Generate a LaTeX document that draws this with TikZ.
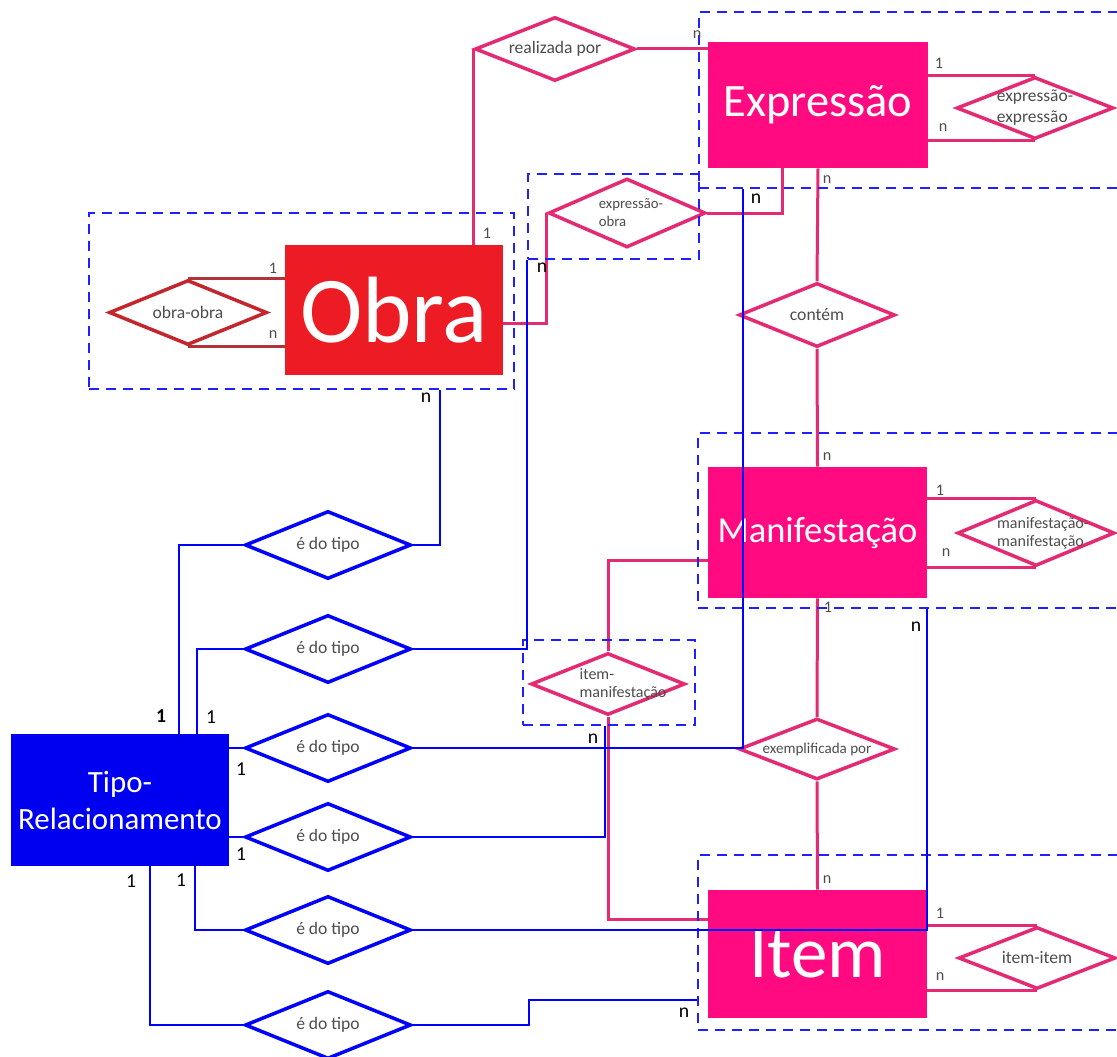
\documentclass[tikz,border=0pt]{standalone}
\usepackage{fontspec}
\setmainfont{Carlito}
\usetikzlibrary{shapes.geometric}

\newlength{\du}
\setlength{\du}{0.025cm}

\definecolor{obrared}{HTML}{ED1C24}
\definecolor{obradiam}{HTML}{C4262E}
\definecolor{obraline}{HTML}{B3323A}
\definecolor{frbrpink}{HTML}{FF0A80}
\definecolor{pinkline}{HTML}{E42A72}
\definecolor{tipoblue}{HTML}{0000F0}
\definecolor{linkblue}{HTML}{0000FF}
\definecolor{dashblue}{HTML}{1F1FFF}
\definecolor{labelgray}{HTML}{4D4D4D}

\tikzset{
  entity/.style={rectangle, inner sep=0pt, text=white, align=center},
  rel/.style={diamond, draw=#1, fill=white, line width=3.5\du, inner sep=0pt},
  reltext/.style={text=labelgray, inner sep=0pt, font=\fontsize{12.5}{14}\selectfont},
  pinkconn/.style={draw=pinkline, line width=3\du},
  obraconn/.style={draw=obraline, line width=3\du},
  blueconn/.style={draw=linkblue, line width=2.5\du},
  grupo/.style={rectangle, draw=dashblue, line width=2.5\du, dash pattern=on 10\du off 7\du, inner sep=0pt},
  cardgray/.style={text=labelgray, inner sep=0pt, font=\fontsize{11.5}{13}\selectfont},
  cardblack/.style={text=black, inner sep=0pt, font=\fontsize{14}{16}\selectfont},
}

\begin{document}
\begin{tikzpicture}
\pgftransformxscale{1.000000}
\pgftransformyscale{-1.000000}
\useasboundingbox (0\du,0\du) rectangle (1117\du,1057\du);
% entidades
\node[entity, fill=obrared, minimum width=218\du, minimum height=130\du, font=\fontsize{67}{70}\selectfont] (obra) at (394\du,310\du) {Obra};
\node[entity, fill=frbrpink, minimum width=220\du, minimum height=126\du, font=\fontsize{33}{36}\selectfont] (expr) at (818\du,105\du) {Expressão};
\node[entity, fill=frbrpink, minimum width=219\du, minimum height=131\du, font=\fontsize{26}{28}\selectfont] (manif) at (817.5\du,532.5\du) {Manifestação};
\node[entity, fill=frbrpink, minimum width=219\du, minimum height=128\du, font=\fontsize{52}{54}\selectfont] (item) at (817.5\du,954\du) {Item};
\node[entity, fill=tipoblue, minimum width=218\du, minimum height=132\du, font=\fontsize{22}{26.3}\selectfont] (tipo) at (120\du,800\du) {Tipo-\\Relacionamento};
% relacionamentos
\node[rel=pinkline, minimum width=160\du, minimum height=64\du, label={[reltext]center:realizada por}] (rp) at (555\du,49\du) {};
\node[rel=pinkline, minimum width=157\du, minimum height=69\du, label={[reltext, align=left, xshift=4\du, font=\fontsize{10.5}{12.8}\selectfont]center:{expressão-\\obra}}] (eo) at (627\du,213\du) {};
\node[rel=obradiam, minimum width=158\du, minimum height=65\du, label={[reltext]center:obra-obra}] (oo) at (188\du,312.5\du) {};
\node[rel=pinkline, minimum width=157\du, minimum height=62\du, label={[reltext, align=left, font=\fontsize{12.4}{15}\selectfont]center:{expressão-\\expressão}}] (ee) at (1035\du,108\du) {};
\node[rel=pinkline, minimum width=156\du, minimum height=64\du, label={[reltext]center:contém}] (cont) at (817\du,315\du) {};
\node[rel=pinkline, minimum width=157\du, minimum height=66\du, label={[reltext, align=left, xshift=7\du, font=\fontsize{11.4}{12.8}\selectfont]center:{manifestação-\\manifestação}}] (mm) at (1036\du,533\du) {};
\node[rel=pinkline, minimum width=154\du, minimum height=62\du, label={[reltext, align=left, xshift=15\du, font=\fontsize{11.4}{12.8}\selectfont]center:{item-\\manifestação}}] (im) at (608\du,684\du) {};
\node[rel=pinkline, minimum width=156\du, minimum height=61\du, label={[reltext, font=\fontsize{10.7}{12}\selectfont]center:exemplificada por}] (ex) at (817\du,749\du) {};
\node[rel=pinkline, minimum width=157\du, minimum height=62\du, label={[reltext]center:item-item}] (ii) at (1037\du,958\du) {};
\node[rel=linkblue, minimum width=166\du, minimum height=68\du, label={[reltext]center:é do tipo}] (edt1) at (328\du,545\du) {};
\node[rel=linkblue, minimum width=166\du, minimum height=68\du, label={[reltext]center:é do tipo}] (edt2) at (328\du,649\du) {};
\node[rel=linkblue, minimum width=166\du, minimum height=68\du, label={[reltext]center:é do tipo}] (edt3) at (328\du,748\du) {};
\node[rel=linkblue, minimum width=166\du, minimum height=68\du, label={[reltext]center:é do tipo}] (edt4) at (328\du,837\du) {};
\node[rel=linkblue, minimum width=166\du, minimum height=68\du, label={[reltext]center:é do tipo}] (edt5) at (328\du,930\du) {};
\node[rel=linkblue, minimum width=166\du, minimum height=68\du, label={[reltext]center:é do tipo}] (edt6) at (328\du,1025\du) {};
% ligacoes FRBR
\draw[pinkconn] (rp.west) -- (rp.west |- obra.north);
\draw[pinkconn] (rp.east) -- (rp.east -| expr.west);
\draw[pinkconn] (obra.east |- 0,323\du) -| (eo.west);
\draw[pinkconn] (eo.east) -| (expr.south -| 782\du,0);
\draw[pinkconn] (expr.south) -- (cont.north);
\draw[pinkconn] (cont.south) -- (manif.north);
\draw[pinkconn] (manif.west |- 0,560\du) -| (im.north);
\draw[pinkconn] (im.south) |- (item.west |- 0,919\du);
\draw[pinkconn] (manif.south) -- (ex.north);
\draw[pinkconn] (ex.south) -- (item.north);
\draw[obraconn] (oo.north) -- (oo.north -| obra.west);
\draw[obraconn] (oo.south) -- (oo.south -| obra.west);
\draw[pinkconn] (ee.north) -- (ee.north -| expr.east);
\draw[pinkconn] (ee.south) -- (ee.south -| expr.east);
\draw[pinkconn] (mm.north) -- (mm.north -| manif.east);
\draw[pinkconn] (mm.south) -- (mm.south -| manif.east);
\draw[pinkconn] (ii.north) -- (ii.north -| item.east);
\draw[pinkconn] (ii.south) -- (ii.south -| item.east);
% grupos
\node[grupo, minimum width=425\du, minimum height=176\du] (gObra) at (301.5\du,301\du) {};
\node[grupo, minimum width=171\du, minimum height=85\du] (gEO) at (613.5\du,216.5\du) {};
\node[grupo, minimum width=436\du, minimum height=176\du] (gExpr) at (917\du,100\du) {};
\node[grupo, minimum width=437\du, minimum height=175\du] (gManif) at (916.5\du,520.5\du) {};
\node[grupo, minimum width=172\du, minimum height=85\du] (gIM) at (609\du,682.5\du) {};
\node[grupo, minimum width=437\du, minimum height=175\du] (gItem) at (916.5\du,942.5\du) {};
% ligacoes tipo
\draw[blueconn] (tipo.north -| 179\du,0) |- (edt1.west);
\draw[blueconn] (edt1.east) -| (gObra.south -| 440\du,0);
\draw[blueconn] (tipo.north -| 197\du,0) |- (edt2.west);
\draw[blueconn] (edt2.east) -| (gEO.south west);
\draw[blueconn] (edt3.west -| tipo.east) -- (edt3.west);
\draw[blueconn] (edt3.east) -| (gExpr.south -| 743\du,0);
\draw[blueconn] (edt4.west -| tipo.east) -- (edt4.west);
\draw[blueconn] (edt4.east) -| (gIM.south -| 605\du,0);
\draw[blueconn] (tipo.south -| 195\du,0) |- (edt5.west);
\draw[blueconn] (edt5.east) -| (gManif.south -| 927\du,0);
\draw[blueconn] (tipo.south -| 150\du,0) |- (edt6.west);
\coordinate (dobra6) at (529\du,1000\du);
\draw[blueconn] (edt6.east) -| (dobra6) -- (dobra6 -| gItem.west);
% cardinalidades
\node[cardgray] (kRpExpr) at (697\du,35\du) {n};
\node[cardgray] (kRpObra) at (487\du,233\du) {1};
\node[cardgray] (kOo1) at (273\du,268\du) {1};
\node[cardgray] (kOon) at (273\du,335\du) {n};
\node[cardgray] (kEe1) at (939\du,63\du) {1};
\node[cardgray] (kEen) at (943\du,128\du) {n};
\node[cardgray] (kContExpr) at (827\du,180\du) {n};
\node[cardgray] (kContManif) at (827\du,457\du) {n};
\node[cardgray] (kMm1) at (940\du,490\du) {1};
\node[cardgray] (kMmn) at (946\du,553\du) {n};
\node[cardgray] (kExManif) at (828\du,607\du) {1};
\node[cardgray] (kExItem) at (827\du,880\du) {n};
\node[cardgray] (kIi1) at (940\du,913\du) {1};
\node[cardgray] (kIin) at (940\du,977\du) {n};
\node[cardblack] (kGObra) at (426\du,398\du) {n};
\node[cardblack] (kGEO) at (542\du,268\du) {n};
\node[cardblack] (kGExpr) at (756\du,199\du) {n};
\node[cardblack] (kGIM) at (593\du,739\du) {n};
\node[cardblack] (kGManif) at (916\du,627\du) {n};
\node[cardblack] (kGItem) at (684\du,1013\du) {n};
\node[cardblack, font=\fontsize{14}{16}\selectfont\bfseries] (kT1) at (161\du,716\du) {1};
\node[cardblack] (kT2) at (211\du,717\du) {1};
\node[cardblack] (kT3) at (241\du,769\du) {1};
\node[cardblack] (kT4) at (241\du,854\du) {1};
\node[cardblack] (kT5) at (181\du,880\du) {1};
\node[cardblack] (kT6) at (131\du,881\du) {1};
\end{tikzpicture}
\end{document}
